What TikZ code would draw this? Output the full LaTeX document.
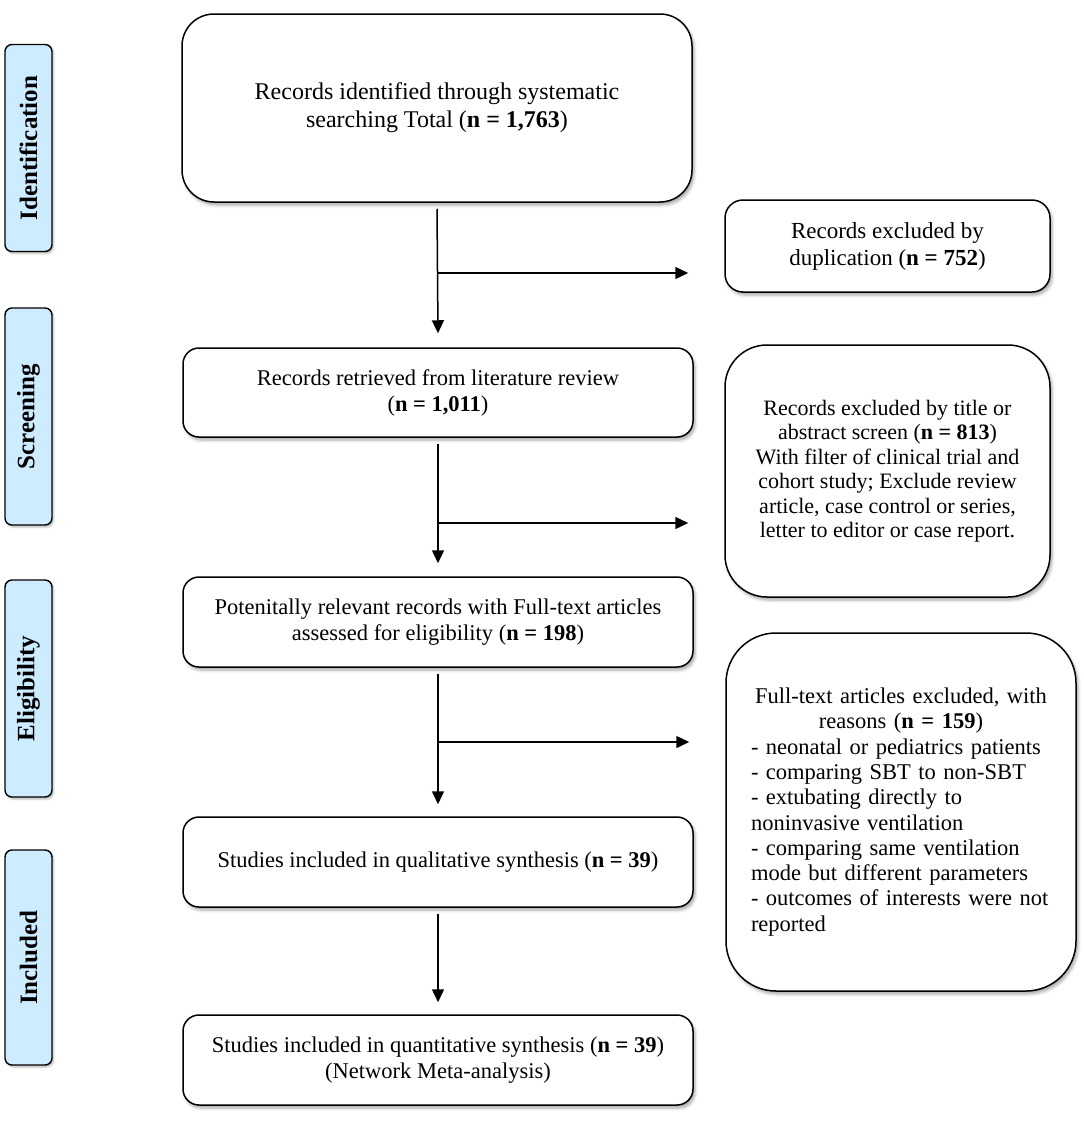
\documentclass[tikz,border=0pt]{standalone}
\usepackage{fontspec}
\setmainfont{Liberation Serif}
\usetikzlibrary{arrows.meta,shadows.blur}
\definecolor{lblue}{RGB}{206,236,255}
\tikzset{
  mainbox/.style={draw=black, line width=1.5pt, rounded corners=22pt, fill=white,
    minimum width=510pt, align=center, inner sep=0pt,
    blur shadow={shadow xshift=2pt, shadow yshift=-3pt, shadow blur radius=3pt, shadow opacity=35},
    font=\fontsize{22.5}{26}\selectfont},
  sidebox/.style={mainbox, minimum width=325pt},
  phase/.style={draw=black, line width=1.4pt, rounded corners=7pt, fill=lblue,
    rotate=90, minimum height=47pt, inner sep=0pt,
    blur shadow={shadow xshift=1.5pt, shadow yshift=-2pt, shadow blur radius=2pt, shadow opacity=30},
    font=\fontsize{25}{28}\selectfont\bfseries},
  arr/.style={line width=1.5pt, -{Triangle[width=12pt,length=13pt]}},
}
\begin{document}
\begin{tikzpicture}[x=1pt,y=-1pt]
\useasboundingbox (0,0) rectangle (1084,1136);
% phase labels
\node[phase, minimum width=207pt] (pid) at (28.5,148) {Identification};
\node[phase, minimum width=217pt] (psc) at (28.5,416.5) {Screening};
\node[phase, minimum width=217pt] (pel) at (28.5,688.5) {Eligibility};
\node[phase, minimum width=215pt] (pin) at (28.5,957.5) {Included};
% main boxes
\node[mainbox, minimum height=188pt, rounded corners=32pt, font=\fontsize{24}{28}\selectfont] (b1) at (437,108) {Records identified through systematic\\searching Total (\textbf{n = 1,763})};
\node[mainbox, minimum height=89pt, rounded corners=16pt] (b2) at (438,392.5) {Records retrieved from literature review\\(\textbf{n = 1,011})};
\node[mainbox, minimum height=90pt, rounded corners=16pt] (b3) at (438,622) {Potenitally relevant records with Full-text articles\\assessed for eligibility (\textbf{n = 198})};
\node[mainbox, minimum height=90pt, rounded corners=16pt] (b4) at (438,862) {Studies included in qualitative synthesis (\textbf{n = 39})};
\node[mainbox, minimum height=90pt, rounded corners=16pt] (b5) at (438,1060) {Studies included in quantitative synthesis (\textbf{n = 39})\\(Network Meta-analysis)};
% side boxes
\node[sidebox, minimum height=92pt, rounded corners=18pt, font=\fontsize{23}{27}\selectfont] (e1) at (887.5,246) {Records excluded by\\duplication (\textbf{n = 752})};
\node[sidebox, minimum height=252pt, rounded corners=42pt, font=\fontsize{22}{24.5}\selectfont] (e2) at (887.5,471) {Records excluded by title or\\abstract screen (\textbf{n = 813})\\With filter of clinical trial and\\cohort study; Exclude review\\article, case control or series,\\letter to editor or case report.};
\node[sidebox, minimum width=350pt, minimum height=358pt, rounded corners=50pt, text width=300pt, align=left, font=\fontsize{22.5}{25.3}\selectfont] (e3) at (901,812) {\makebox[300pt][c]{Full-text articles excluded, with}\\\makebox[300pt][c]{reasons (\textbf{n = 159})}\\- neonatal or pediatrics patients\\- comparing SBT to non-SBT\\- extubating directly to\\noninvasive ventilation\\- comparing same ventilation\\mode but different parameters\\- outcomes of interests were not\\reported};
% junction coordinates
\coordinate (j1) at (438,273);
\coordinate (j2) at (438,523);
\coordinate (j3) at (438,742);
% connectors
\draw[arr] ([yshift=-6pt]b1.south) -- ([yshift=14pt]b2.north);
\draw[arr] ([yshift=-6pt]b2.south) -- ([yshift=13pt]b3.north);
\draw[arr] ([yshift=-6pt]b3.south) -- ([yshift=12pt]b4.north);
\draw[arr] ([yshift=-6pt]b4.south) -- ([yshift=12pt]b5.north);
\draw[arr] (j1) -- ([xshift=-36pt]e1.west |- j1);
\draw[arr] (j2) -- ([xshift=-36pt]e2.west |- j2);
\draw[arr] (j3) -- ([xshift=-36pt]e3.west |- j3);
\end{tikzpicture}
\end{document}
